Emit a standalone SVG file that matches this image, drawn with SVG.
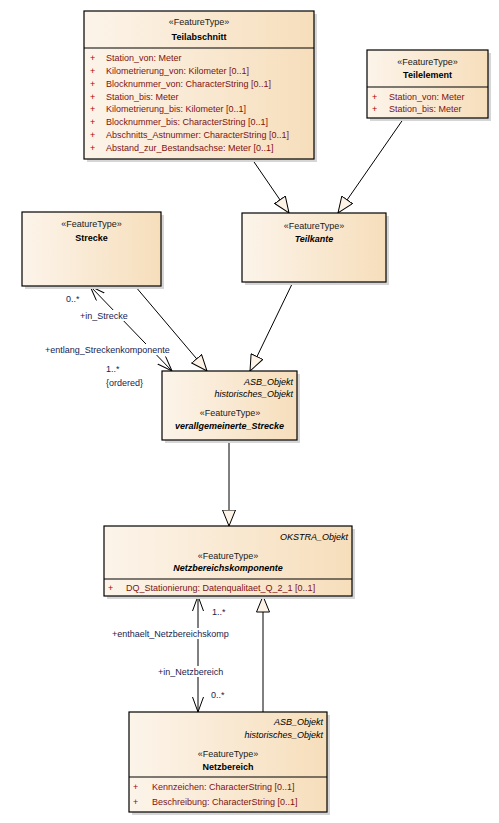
<svg xmlns="http://www.w3.org/2000/svg" width="499" height="823" viewBox="0 0 499 823">
<defs>
<linearGradient id="g" x1="0" y1="0" x2="1" y2="0">
<stop offset="0" stop-color="#FCF4EA"/>
<stop offset="1" stop-color="#F6DEBB"/>
</linearGradient>
<marker id="tri" markerUnits="userSpaceOnUse" viewBox="0 0 17 14" refX="16.5" refY="7" markerWidth="17" markerHeight="14" orient="auto">
<path d="M0.5,0.5 L16.5,7 L0.5,13.5 Z" fill="#FDF3E6" stroke="#000" stroke-width="1"/>
</marker>
<marker id="open" markerUnits="userSpaceOnUse" viewBox="0 0 16 12" refX="15" refY="6" markerWidth="16" markerHeight="12" orient="auto-start-reverse">
<path d="M0,0.5 L15,6 L0,11.5" fill="none" stroke="#000" stroke-width="1"/>
</marker>
</defs>
<style>
text{font-family:"Liberation Sans",Arial,sans-serif;font-size:9px;}
.box{fill:url(#g);stroke:#000;stroke-width:1.2;}
.sh{fill:#D6D6D6;}
.div{stroke:#000;stroke-width:1.2;}
.st{text-anchor:middle;fill:#1a1a1a;}
.nm{text-anchor:middle;font-weight:bold;fill:#000;}
.it{font-style:italic;}
.tag{text-anchor:end;font-style:italic;fill:#000;}
.at{fill:#7E1212;}
.pl{fill:#B00000;}
.lb{fill:#18244F;}
.ln{stroke:#000;stroke-width:1;fill:none;}
.bg{fill:#fff;}
</style>

<g id="connectors">
<line class="ln" x1="252" y1="159" x2="289" y2="213" marker-end="url(#tri)"/>
<line class="ln" x1="404" y1="118" x2="338" y2="213" marker-end="url(#tri)"/>
<line class="ln" x1="135" y1="286" x2="207" y2="371" marker-end="url(#tri)"/>
<line class="ln" x1="293" y1="282" x2="250" y2="371" marker-end="url(#tri)"/>
<line class="ln" x1="90" y1="286" x2="172" y2="371" marker-start="url(#open)" marker-end="url(#open)"/>
<line class="ln" x1="229" y1="440" x2="229" y2="526" marker-end="url(#tri)"/>
<line class="ln" x1="198" y1="596" x2="198" y2="712" marker-start="url(#open)" marker-end="url(#open)"/>
<line class="ln" x1="263" y1="712" x2="263" y2="596" marker-end="url(#tri)"/>
<g id="labels">
<text class="lb" x="66" y="302">0..*</text>
<rect class="bg" x="79" y="310" width="49" height="11"/>
<text class="lb" x="80" y="319">+in_Strecke</text>
<rect class="bg" x="44" y="344" width="127" height="11"/>
<text class="lb" x="45" y="353">+entlang_Streckenkomponente</text>
<text class="lb" x="106" y="372">1..*</text>
<text class="lb" x="106" y="386">{ordered}</text>
<text class="lb" x="212" y="615">1..*</text>
<rect class="bg" x="111" y="628" width="118" height="11"/>
<text class="lb" x="112" y="637">+enthaelt_Netzbereichskomp</text>
<rect class="bg" x="157" y="666" width="67" height="11"/>
<text class="lb" x="158" y="675">+in_Netzbereich</text>
<text class="lb" x="211" y="698">0..*</text>
</g>
</g>

<g id="Teilabschnitt">
<rect class="sh" x="87" y="14" width="230" height="148"/>
<rect class="box" x="84" y="11" width="230" height="148"/>
<text class="st" x="199" y="25">«FeatureType»</text>
<text class="nm" x="199" y="40">Teilabschnitt</text>
<line class="div" x1="84" y1="48" x2="314" y2="48"/>
<text class="pl" x="90" y="61">+</text><text class="at" x="106" y="61">Station_von: Meter</text>
<text class="pl" x="90" y="74">+</text><text class="at" x="106" y="74">Kilometrierung_von: Kilometer [0..1]</text>
<text class="pl" x="90" y="87">+</text><text class="at" x="106" y="87">Blocknummer_von: CharacterString [0..1]</text>
<text class="pl" x="90" y="100">+</text><text class="at" x="106" y="100">Station_bis: Meter</text>
<text class="pl" x="90" y="112">+</text><text class="at" x="106" y="112">Kilometrierung_bis: Kilometer [0..1]</text>
<text class="pl" x="90" y="125">+</text><text class="at" x="106" y="125">Blocknummer_bis: CharacterString [0..1]</text>
<text class="pl" x="90" y="138">+</text><text class="at" x="106" y="138">Abschnitts_Astnummer: CharacterString [0..1]</text>
<text class="pl" x="90" y="151">+</text><text class="at" x="106" y="151">Abstand_zur_Bestandsachse: Meter [0..1]</text>
</g>

<g id="Teilelement">
<rect class="sh" x="370" y="53" width="121" height="68"/>
<rect class="box" x="367" y="50" width="121" height="68"/>
<text class="st" x="427.5" y="65">«FeatureType»</text>
<text class="nm" x="427.5" y="78">Teilelement</text>
<line class="div" x1="367" y1="87" x2="488" y2="87"/>
<text class="pl" x="372" y="100">+</text><text class="at" x="389" y="100">Station_von: Meter</text>
<text class="pl" x="372" y="112">+</text><text class="at" x="389" y="112">Station_bis: Meter</text>
</g>

<g id="Strecke">
<rect class="sh" x="25" y="215" width="139" height="74"/>
<rect class="box" x="22" y="212" width="139" height="74"/>
<text class="st" x="91.5" y="227">«FeatureType»</text>
<text class="nm" x="91.5" y="241">Strecke</text>
</g>

<g id="Teilkante">
<rect class="sh" x="245" y="216" width="144" height="69"/>
<rect class="box" x="242" y="213" width="144" height="69"/>
<text class="st" x="314" y="229">«FeatureType»</text>
<text class="nm it" x="314" y="242">Teilkante</text>
</g>

<g id="verallgemeinerte_Strecke">
<rect class="sh" x="165" y="374" width="135" height="69"/>
<rect class="box" x="162" y="371" width="135" height="69"/>
<text class="tag" x="293" y="385">ASB_Objekt</text>
<text class="tag" x="293" y="397">historisches_Objekt</text>
<text class="st" x="230" y="416">«FeatureType»</text>
<text class="nm it" x="229.5" y="429">verallgemeinerte_Strecke</text>
</g>

<g id="Netzbereichskomponente">
<rect class="sh" x="107" y="529" width="248" height="70"/>
<rect class="box" x="104" y="526" width="248" height="70"/>
<text class="tag" x="348" y="540">OKSTRA_Objekt</text>
<text class="st" x="228" y="559">«FeatureType»</text>
<text class="nm it" x="228" y="571">Netzbereichskomponente</text>
<line class="div" x1="104" y1="579" x2="352" y2="579"/>
<text class="pl" x="108" y="591">+</text><text class="at" x="126" y="591">DQ_Stationierung: Datenqualitaet_Q_2_1 [0..1]</text>
</g>

<g id="Netzbereich">
<rect class="sh" x="132" y="715" width="198" height="100"/>
<rect class="box" x="129" y="712" width="198" height="100"/>
<text class="tag" x="323" y="725">ASB_Objekt</text>
<text class="tag" x="323" y="738">historisches_Objekt</text>
<text class="st" x="228" y="757">«FeatureType»</text>
<text class="nm" x="228" y="770">Netzbereich</text>
<line class="div" x1="129" y1="777" x2="327" y2="777"/>
<text class="pl" x="133" y="790">+</text><text class="at" x="152" y="790">Kennzeichen: CharacterString [0..1]</text>
<text class="pl" x="133" y="805">+</text><text class="at" x="152" y="805">Beschreibung: CharacterString [0..1]</text>
</g>
</svg>
